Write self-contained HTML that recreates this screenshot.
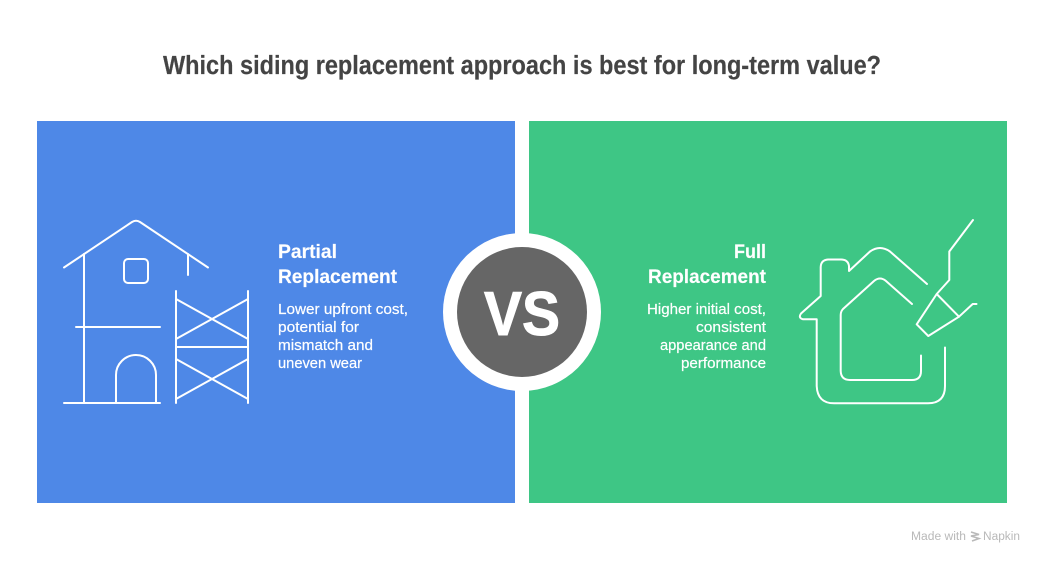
<!DOCTYPE html>
<html>
<head>
<meta charset="utf-8">
<style>
html,body{margin:0;padding:0;background:#fff;}
svg{display:block;}
text{font-family:"Liberation Sans",sans-serif;}
.h{font-size:19.5px;font-weight:700;fill:#fff;stroke:#fff;stroke-width:.15;}
.d{font-size:15px;fill:#fff;stroke:#fff;stroke-width:.2;}
.i{fill:none;stroke:#fff;stroke-width:2;stroke-linecap:round;stroke-linejoin:round;}
</style>
</head>
<body>
<svg width="1044" height="565" viewBox="0 0 1044 565" xmlns="http://www.w3.org/2000/svg">
<rect width="1044" height="565" fill="#fff"/>
<text x="163" y="74" font-size="25.500" font-weight="700" fill="#444444" stroke="#444444" stroke-width=".2" textLength="718" lengthAdjust="spacingAndGlyphs">Which siding replacement approach is best for long-term value?</text>
<rect x="37" y="121" width="478" height="382" fill="#4E88E7"/>
<rect x="529" y="121" width="478" height="382" fill="#3EC685"/>

<g class="i">
<path d="M64 267.500L132 222Q136 219.500 140 222L208 267.500"/>
<path d="M84 254V403M188 254V275"/>
<rect x="124" y="259" width="24" height="24" rx="4"/>
<path d="M76 327H160M64 403H160"/>
<path d="M116 403V375A20 20 0 0 1 156 375V403"/>
<path d="M176 291V403M248 291V403M176 347H248"/>
<path d="M176 299L248 339M248 299L176 339M176 359L248 399M248 359L176 399"/>
</g>

<g class="i">
<path d="M927 284L890 251.500Q880 244.500 870 251.500L849 271V266Q848 259.500 841 259.500H828Q821 260 820.700 267V296L801 313.500Q798 318 803 319.300H816.700V386Q817.500 403.300 834 403.300H928Q945 403.300 945 386V347.500"/>
<path d="M912 304L886 281Q880 276 874 281L843 309Q840.700 311.500 840.700 315V371Q841 380 850 380H912Q921 380 921 371V355.500"/>
<path d="M973 220L949.300 251.500V280L936.700 294L916.700 324.300L928.300 336L959 316.700L936.700 294"/>
<path d="M959 316.700L972.700 304H976.500"/>
</g>

<circle cx="522" cy="312" r="79" fill="#fff"/>
<circle cx="522" cy="312" r="65" fill="#666666"/>
<text x="484" y="335" font-size="62" font-weight="700" fill="#fff" stroke="#fff" stroke-width="1" textLength="76" lengthAdjust="spacingAndGlyphs">VS</text>

<text class="h" x="278" y="258" textLength="59" lengthAdjust="spacingAndGlyphs">Partial</text>
<text class="h" x="278" y="283" textLength="119" lengthAdjust="spacingAndGlyphs">Replacement</text>
<text class="d" x="278" y="314" textLength="130" lengthAdjust="spacingAndGlyphs">Lower upfront cost,</text>
<text class="d" x="278" y="332" textLength="81" lengthAdjust="spacingAndGlyphs">potential for</text>
<text class="d" x="278" y="350" textLength="95" lengthAdjust="spacingAndGlyphs">mismatch and</text>
<text class="d" x="278" y="368" textLength="84" lengthAdjust="spacingAndGlyphs">uneven wear</text>

<text class="h" x="734" y="258" textLength="32" lengthAdjust="spacingAndGlyphs">Full</text>
<text class="h" x="648" y="283" textLength="118" lengthAdjust="spacingAndGlyphs">Replacement</text>
<text class="d" x="647" y="314" textLength="119" lengthAdjust="spacingAndGlyphs">Higher initial cost,</text>
<text class="d" x="696" y="332" textLength="70" lengthAdjust="spacingAndGlyphs">consistent</text>
<text class="d" x="660" y="350" textLength="106" lengthAdjust="spacingAndGlyphs">appearance and</text>
<text class="d" x="681" y="368" textLength="85" lengthAdjust="spacingAndGlyphs">performance</text>

<text x="911" y="540" font-size="11.500" fill="#b9b9b9" textLength="55" lengthAdjust="spacingAndGlyphs">Made with</text>
<path d="M971 532L979 534.500L971 536L979 538.500L972 541" fill="none" stroke="#b9b9b9" stroke-width="1.600"/>
<text x="983" y="540" font-size="11.500" fill="#b9b9b9" textLength="37" lengthAdjust="spacingAndGlyphs">Napkin</text>
</svg>
</body>
</html>
